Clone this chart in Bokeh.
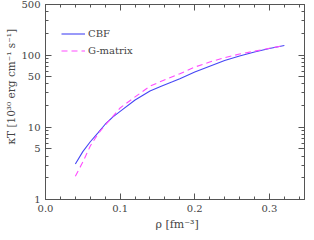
from bokeh.plotting import figure
from bokeh.models import (LogAxis, LinearAxis, FixedTicker, Range1d, Legend, LegendItem,
                          NumeralTickFormatter, Title)
from bokeh.embed import file_html
from bokeh.resources import INLINE

rho_cbf = [0.04, 0.05, 0.06, 0.07, 0.08, 0.09, 0.10, 0.12, 0.14, 0.155, 0.17, 0.18, 0.20,
           0.22, 0.24, 0.26, 0.28, 0.30, 0.32]
kt_cbf = [3.1, 4.6, 6.3, 8.3, 11.0, 13.8, 16.6, 23.8, 31.8, 37.0, 42.5, 47.0, 58.0,
          70.0, 84.0, 97.0, 110.0, 123.0, 135.0]

rho_g = [0.04, 0.05, 0.06, 0.07, 0.08, 0.09, 0.10, 0.12, 0.14, 0.16, 0.18, 0.20,
         0.22, 0.24, 0.26, 0.28, 0.30, 0.32]
kt_g = [2.1, 3.3, 5.5, 8.0, 10.7, 14.0, 18.5, 26.3, 37.0, 45.5, 55.0, 68.0,
        80.0, 92.0, 103.0, 113.0, 124.0, 135.0]

x_major = [0.0, 0.1, 0.2, 0.3]
x_minor = [0.02, 0.04, 0.06, 0.08, 0.12, 0.14, 0.16, 0.18, 0.22, 0.24, 0.26, 0.28, 0.32, 0.34]
y_major = [1, 5, 10, 50, 100, 500]
y_minor = [2, 3, 4, 6, 7, 8, 9, 20, 30, 40, 60, 70, 80, 90, 200, 300, 400]

x_title = "ρ [fm⁻³]"
y_title = "κT [10³⁰ erg cm⁻¹ s⁻¹]"

FONT = "DejaVu Serif"
TXT = "#444444"
AX = "#555555"

p = figure(width=306, height=232, y_axis_type="log", output_backend="svg",
           toolbar_location=None, x_axis_location=None, y_axis_location=None,
           x_range=Range1d(0.0, 0.347), y_range=Range1d(1, 500),
           min_border_left=44, min_border_right=2, min_border_top=4, min_border_bottom=33)
p.grid.visible = False
p.outline_line_color = AX
p.background_fill_color = "white"
p.border_fill_color = "white"


def style(ax, labels=True):
    ax.major_tick_in = 6
    ax.major_tick_out = 0
    ax.minor_tick_in = 3
    ax.minor_tick_out = 0
    ax.axis_line_color = AX
    ax.major_tick_line_color = AX
    ax.minor_tick_line_color = AX
    ax.major_label_text_font = FONT
    ax.major_label_text_color = TXT
    ax.major_label_text_font_size = "10px"
    if not labels:
        ax.major_label_standoff = 0


xt = FixedTicker(ticks=x_major, minor_ticks=x_minor)
yt = FixedTicker(ticks=y_major, minor_ticks=y_minor)

xb = LinearAxis(ticker=xt, formatter=NumeralTickFormatter(format="0.0"))
style(xb)
xb.major_label_standoff = 5
p.add_layout(xb, "below")

xa = LinearAxis(ticker=xt)
style(xa, labels=False)
xa.major_label_overrides = {v: "" for v in x_major}
p.add_layout(xa, "above")

yl = LogAxis(ticker=yt)
yl.major_label_overrides = {v: str(v) for v in y_major}
style(yl)
yl.major_label_standoff = 5
p.add_layout(yl, "left")

yr = LogAxis(ticker=yt)
style(yr, labels=False)
yr.major_label_overrides = {v: "" for v in y_major}
p.add_layout(yr, "right")

ytitle = Title(text=y_title, align="left", offset=55, text_font=FONT,
               text_font_size="10.5px", text_font_style="normal", text_color=TXT,
               standoff=4)
p.add_layout(ytitle, "left")

xtitle = Title(text=x_title, align="left", offset=110, text_font=FONT,
               text_font_size="11px", text_font_style="normal", text_color=TXT,
               standoff=2)
p.add_layout(xtitle, "below")

r1 = p.line(rho_cbf, kt_cbf, line_color="#4646f5", line_width=1.1)
r2 = p.line(rho_g, kt_g, line_color="#ff4cff", line_width=1.1, line_dash="6 4")

leg = Legend(items=[LegendItem(label="CBF", renderers=[r1]),
                    LegendItem(label="G-matrix", renderers=[r2])],
             location=(16, 140), padding=0, spacing=0, margin=0,
             glyph_width=24, glyph_height=17, label_height=17, label_standoff=3,
             label_text_font=FONT, label_text_font_size="10px", label_text_color=TXT,
             background_fill_alpha=0, border_line_alpha=0)
p.add_layout(leg, "center")

open("out.html", "w").write(file_html(p, INLINE))
